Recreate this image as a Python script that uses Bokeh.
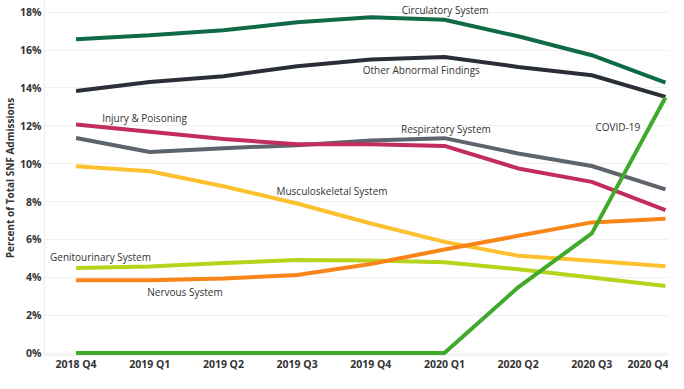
from bokeh.plotting import figure
from bokeh.models import Range1d, FixedTicker, Label
from bokeh.embed import file_html
from bokeh.resources import INLINE

quarters = ["2018 Q4", "2019 Q1", "2019 Q2", "2019 Q3", "2019 Q4",
            "2020 Q1", "2020 Q2", "2020 Q3", "2020 Q4"]

circulatory = [16.57, 16.78, 17.05, 17.47, 17.74, 17.60, 16.73, 15.73, 14.28]
other_abnormal = [13.84, 14.32, 14.62, 15.15, 15.50, 15.64, 15.11, 14.67, 13.53]
injury = [12.07, 11.69, 11.30, 11.03, 11.03, 10.94, 9.75, 9.04, 7.55]
respiratory = [11.36, 10.62, 10.82, 10.98, 11.22, 11.35, 10.54, 9.88, 8.64]
musculoskeletal = [9.87, 9.60, 8.81, 7.90, 6.84, 5.87, 5.14, 4.87, 4.59]
genitourinary = [4.49, 4.57, 4.75, 4.91, 4.89, 4.80, 4.42, 3.99, 3.54]
nervous = [3.85, 3.85, 3.94, 4.12, 4.70, 5.47, 6.19, 6.90, 7.09]
covid = [0.0, 0.0, 0.0, 0.0, 0.0, 0.0, 3.47, 6.32, 13.50]

y_ticks = [0, 2, 4, 6, 8, 10, 12, 14, 16, 18]

series = [
    ("Respiratory System", respiratory, "#5d646b"),
    ("Injury & Poisoning", injury, "#c32d5b"),
    ("Other Abnormal Findings", other_abnormal, "#2a2f37"),
    ("Circulatory System", circulatory, "#0e6b46"),
    ("Musculoskeletal System", musculoskeletal, "#fdc12f"),
    ("Genitourinary System", genitourinary, "#b6d41b"),
    ("Nervous System", nervous, "#f98418"),
    ("COVID-19", covid, "#41a92c"),
]

# annotation anchors (x index, y value), left aligned
label_pos = {
    "Circulatory System": (4.42, 18.12),
    "Other Abnormal Findings": (3.89, 14.93),
    "Injury & Poisoning": (0.354, 12.40),
    "Respiratory System": (4.41, 11.82),
    "COVID-19": (7.05, 11.93),
    "Musculoskeletal System": (2.72, 8.55),
    "Genitourinary System": (-0.354, 5.07),
    "Nervous System": (0.966, 3.22),
}

xs = list(range(len(quarters)))

p = figure(width=668, height=373, output_backend="svg", toolbar_location=None,
           x_range=Range1d(-0.4286, 8.041), y_range=Range1d(-0.13, 18.62),
           min_border_left=0, min_border_right=0, min_border_top=0, min_border_bottom=0)
p.outline_line_color = None
p.background_fill_color = "white"

for name, vals, color in series:
    p.line(xs, vals, line_color=color, line_width=4)

for name, vals, color in series:
    lx, ly = label_pos[name]
    p.add_layout(Label(x=lx, y=ly, text=name, text_font="Open Sans",
                       text_font_size="10px", text_color="#333333",
                       text_baseline="middle", text_align="left"))

p.xaxis.ticker = FixedTicker(ticks=xs)
p.xaxis.major_label_overrides = {i: q for i, q in enumerate(quarters)}
p.yaxis.ticker = FixedTicker(ticks=y_ticks)
p.yaxis.major_label_overrides = {v: f"{v}%" for v in y_ticks}

for ax in (p.xaxis[0], p.yaxis[0]):
    ax.major_tick_line_color = None
    ax.minor_tick_line_color = None
    ax.major_tick_out = 0
    ax.major_tick_in = 0
    ax.minor_tick_out = 0
    ax.minor_tick_in = 0
    ax.axis_line_color = "#ececec"
    ax.major_label_text_font = "Open Sans"
    ax.major_label_text_font_size = "10.5px"
    ax.major_label_text_font_style = "bold"
    ax.major_label_text_color = "#333333"

p.xaxis.axis_label = None
p.xaxis.major_label_standoff = 1
p.yaxis.major_label_standoff = 3
p.yaxis.axis_label = "Percent of Total SNF Admissions"
p.yaxis.axis_label_text_font = "Open Sans"
p.yaxis.axis_label_text_font_size = "10px"
p.yaxis.axis_label_text_font_style = "bold"
p.yaxis.axis_label_text_color = "#333333"
p.yaxis.axis_label_standoff = 0

p.xgrid.grid_line_color = None
p.ygrid.grid_line_color = "#f0f0f0"
p.ygrid.ticker = FixedTicker(ticks=y_ticks)

open("out.html", "w").write(file_html(p, INLINE))
